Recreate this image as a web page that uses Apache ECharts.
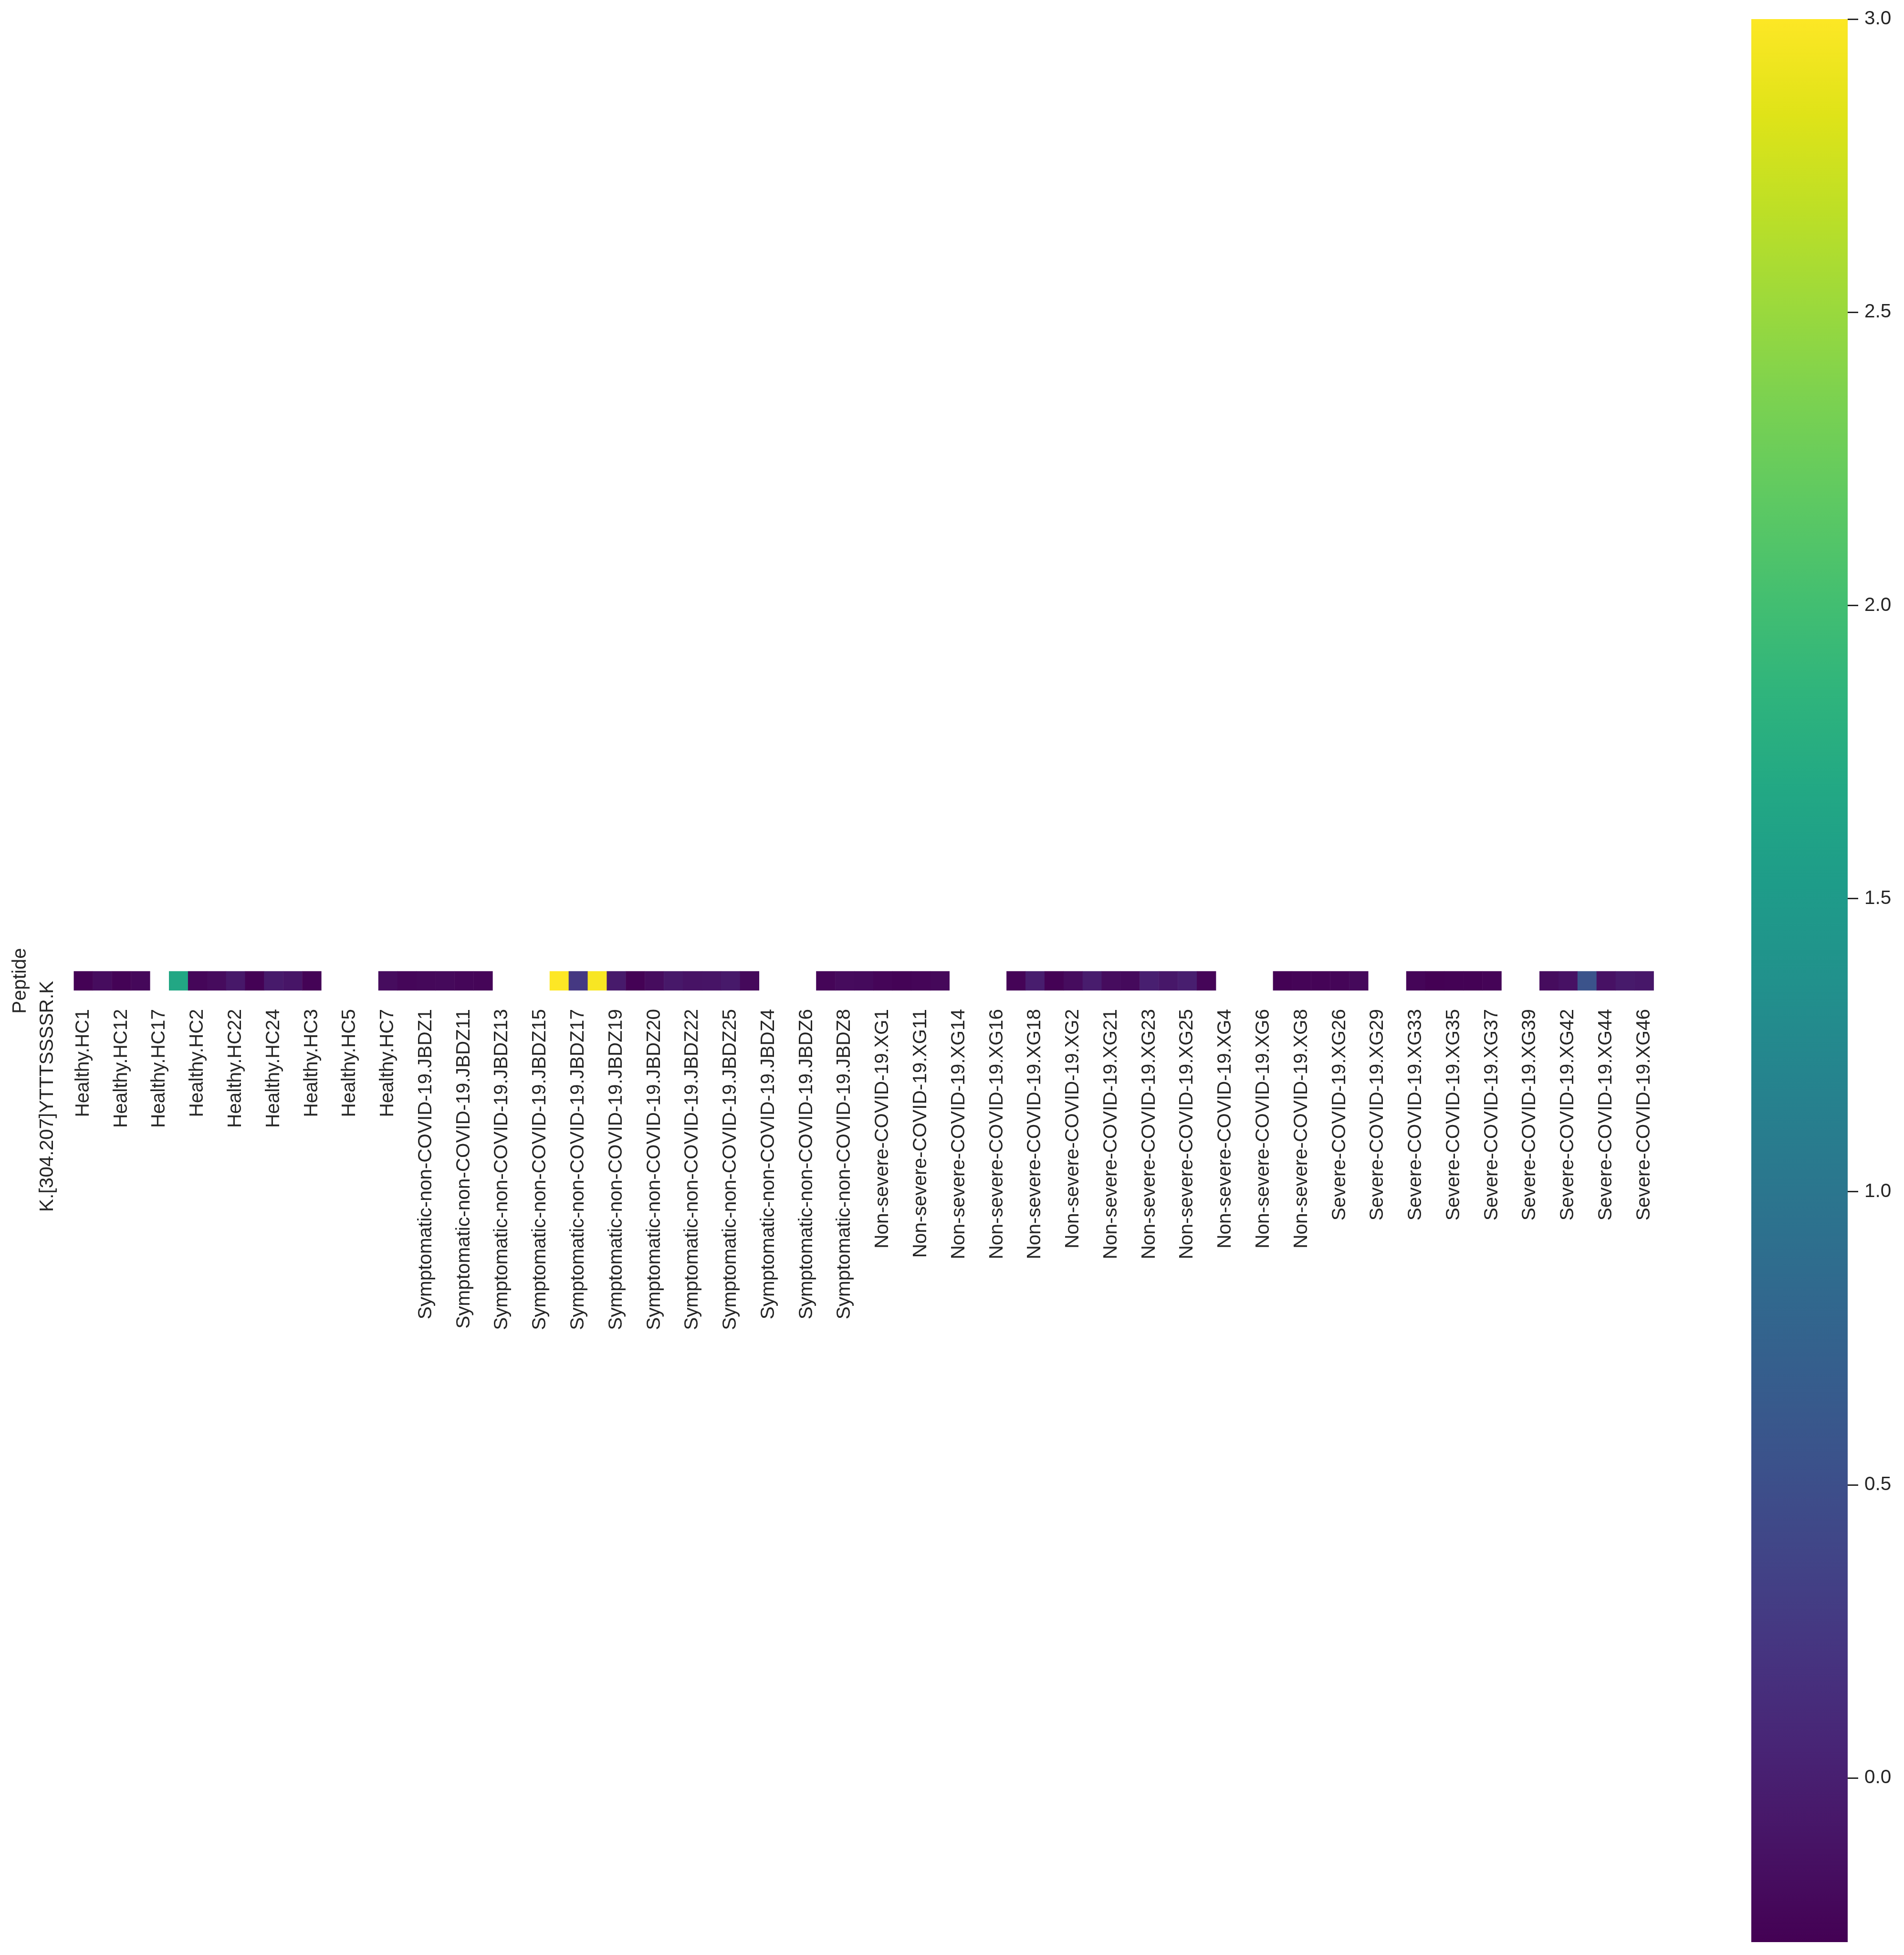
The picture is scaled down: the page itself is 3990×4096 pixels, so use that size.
<!DOCTYPE html>
<html>
<head>
<meta charset="utf-8">
<script src="https://cdn.jsdelivr.net/npm/echarts@6/dist/echarts.min.js"></script>
<style>
html,body{margin:0;padding:0;background:#fff;}
#chart{width:3990px;height:4096px;}
</style>
</head>
<body>
<div id="chart"></div>
<script>
// ---- data ----
const rowLabels = ['K.[304.207]YTTTSSSSR.K'];
const yAxisTitle = 'Peptide';
const categories = [
  'Healthy.HC1','Healthy.HC10','Healthy.HC12','Healthy.HC13','Healthy.HC17','Healthy.HC18',
  'Healthy.HC2','Healthy.HC20','Healthy.HC22','Healthy.HC23','Healthy.HC24','Healthy.HC25',
  'Healthy.HC3','Healthy.HC4','Healthy.HC5','Healthy.HC6','Healthy.HC7','Healthy.HC8',
  'Symptomatic-non-COVID-19.JBDZ1','Symptomatic-non-COVID-19.JBDZ10','Symptomatic-non-COVID-19.JBDZ11',
  'Symptomatic-non-COVID-19.JBDZ12','Symptomatic-non-COVID-19.JBDZ13','Symptomatic-non-COVID-19.JBDZ14',
  'Symptomatic-non-COVID-19.JBDZ15','Symptomatic-non-COVID-19.JBDZ16','Symptomatic-non-COVID-19.JBDZ17',
  'Symptomatic-non-COVID-19.JBDZ18','Symptomatic-non-COVID-19.JBDZ19','Symptomatic-non-COVID-19.JBDZ2',
  'Symptomatic-non-COVID-19.JBDZ20','Symptomatic-non-COVID-19.JBDZ21','Symptomatic-non-COVID-19.JBDZ22',
  'Symptomatic-non-COVID-19.JBDZ24','Symptomatic-non-COVID-19.JBDZ25','Symptomatic-non-COVID-19.JBDZ3',
  'Symptomatic-non-COVID-19.JBDZ4','Symptomatic-non-COVID-19.JBDZ5','Symptomatic-non-COVID-19.JBDZ6',
  'Symptomatic-non-COVID-19.JBDZ7','Symptomatic-non-COVID-19.JBDZ8','Symptomatic-non-COVID-19.JBDZ9',
  'Non-severe-COVID-19.XG1','Non-severe-COVID-19.XG10','Non-severe-COVID-19.XG11','Non-severe-COVID-19.XG12',
  'Non-severe-COVID-19.XG14','Non-severe-COVID-19.XG15','Non-severe-COVID-19.XG16','Non-severe-COVID-19.XG17',
  'Non-severe-COVID-19.XG18','Non-severe-COVID-19.XG19','Non-severe-COVID-19.XG2','Non-severe-COVID-19.XG20',
  'Non-severe-COVID-19.XG21','Non-severe-COVID-19.XG22','Non-severe-COVID-19.XG23','Non-severe-COVID-19.XG24',
  'Non-severe-COVID-19.XG25','Non-severe-COVID-19.XG3','Non-severe-COVID-19.XG4','Non-severe-COVID-19.XG5',
  'Non-severe-COVID-19.XG6','Non-severe-COVID-19.XG7','Non-severe-COVID-19.XG8','Non-severe-COVID-19.XG9',
  'Severe-COVID-19.XG26','Severe-COVID-19.XG27','Severe-COVID-19.XG29','Severe-COVID-19.XG30',
  'Severe-COVID-19.XG33','Severe-COVID-19.XG34','Severe-COVID-19.XG35','Severe-COVID-19.XG36',
  'Severe-COVID-19.XG37','Severe-COVID-19.XG38','Severe-COVID-19.XG39','Severe-COVID-19.XG40',
  'Severe-COVID-19.XG42','Severe-COVID-19.XG43','Severe-COVID-19.XG44','Severe-COVID-19.XG45',
  'Severe-COVID-19.XG46'
];
const values = [
  -0.27, -0.18, -0.26, -0.22, null, 1.68, -0.23, -0.19, -0.07, -0.27, -0.05, -0.10,
  -0.26, null, null, null, -0.18, -0.23,
  -0.22, -0.21, -0.23, -0.24, null, null, null, 3.00, 0.25, 2.97, -0.05, -0.27,
  -0.18, -0.07, -0.12, -0.11, -0.06, -0.21, null, null, null, -0.24, -0.19, -0.20,
  -0.24, -0.26, -0.24, -0.22, null, null, null, -0.25, -0.02, -0.27, -0.18, -0.03,
  -0.18, -0.20, 0.00, -0.08, -0.01, -0.24, null, null, null, -0.27, -0.25, -0.25,
  -0.24, -0.21, null, null, -0.24, -0.28, -0.27, -0.27, -0.25, null, null,
  -0.18, -0.13, 0.55, -0.13, -0.05, -0.08
];
const colorMin = -0.28;
const colorMax = 3.0;
const colorbarTicks = [0.0, 0.5, 1.0, 1.5, 2.0, 2.5, 3.0];
const viridis = ['#440154','#471365','#482475','#463480','#414487','#3b528b','#355f8d',
  '#2f6c8e','#2a788e','#25848e','#21918c','#1e9c89','#22a884','#2fb47c','#44bf70',
  '#5ec962','#7ad151','#9bd93c','#bddf26','#dfe318','#fde725'];

// ---- build ----
const heatData = [];
values.forEach((v, i) => { if (v !== null) heatData.push([i, 0, v]); });

// colour-bar gradient: bottom = colorMin (first palette colour), top = colorMax
const barGradient = new echarts.graphic.LinearGradient(0, 1, 0, 0,
  viridis.map((c, k) => ({offset: k / (viridis.length - 1), color: c})));

const FONT = "'Liberation Sans', Arial, sans-serif";
const TXT = '#262626';
const FS = 40.5;

const chart = echarts.init(document.getElementById('chart'), null, {renderer: 'canvas'});
chart.setOption({
  backgroundColor: '#ffffff',
  animation: false,
  textStyle: {fontFamily: FONT, color: TXT},
  grid: [
    {left: 154.8, top: 2035, width: 3310.8, height: 39.9, containLabel: false},
    {left: 3670, top: 40, width: 202, height: 4029, containLabel: false,
     show: true, backgroundColor: barGradient, borderWidth: 0, borderColor: 'rgba(0,0,0,0)'}
  ],
  xAxis: [
    {
      type: 'category', gridIndex: 0, data: categories, position: 'bottom',
      axisLine: {show: false}, axisTick: {show: false}, splitLine: {show: false},
      axisLabel: {interval: 1, rotate: 90, margin: 39, fontSize: FS, color: TXT, fontFamily: FONT}
    },
    {type: 'value', gridIndex: 1, show: false, min: 1, max: 2, axisLine: {onZero: false}}
  ],
  yAxis: [
    {
      type: 'category', gridIndex: 0, data: rowLabels, position: 'left',
      axisLine: {show: false}, axisTick: {show: false}, splitLine: {show: false},
      axisLabel: {rotate: 90, align: 'right', verticalAlign: 'middle', margin: 55,
                  fontSize: FS, color: TXT, fontFamily: FONT},
      name: yAxisTitle, nameLocation: 'middle', nameRotate: 90, nameGap: 91,
      nameTextStyle: {fontSize: FS, color: TXT, fontFamily: FONT}
    },
    {
      type: 'value', gridIndex: 1, position: 'right', min: colorMin, max: colorMax,
      axisLine: {show: true, onZero: false, lineStyle: {color: 'rgba(0,0,0,0)', width: 0}},
      splitLine: {show: false},
      axisTick: {show: true, inside: false, length: 22, customValues: colorbarTicks,
                 lineStyle: {color: TXT, width: 3}},
      axisLabel: {show: true, margin: 35, customValues: colorbarTicks, fontSize: FS,
                  color: TXT, fontFamily: FONT, formatter: v => Number(v).toFixed(1)}
    }
  ],
  visualMap: {
    type: 'continuous', seriesIndex: 0, min: colorMin, max: colorMax,
    show: false, inRange: {color: viridis}
  },
  series: [
    {
      type: 'heatmap', xAxisIndex: 0, yAxisIndex: 0, data: heatData,
      itemStyle: {borderWidth: 0}, emphasis: {disabled: true}, progressive: 0
    }
  ]
});
</script>
</body>
</html>
